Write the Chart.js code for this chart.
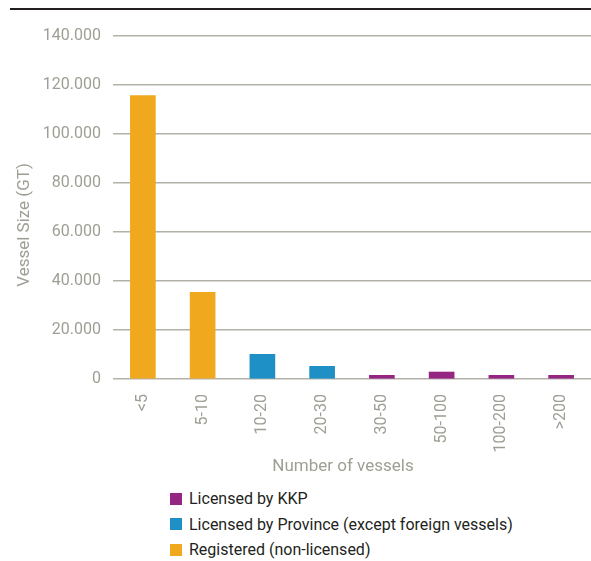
<!DOCTYPE html>
<html lang="en">
<head>
    <meta charset="UTF-8">
    <title>Vessel Size by Number of Vessels</title>
    <script src="https://cdn.jsdelivr.net/npm/chart.js"></script>
    <style>
        body { margin: 0; background: #fff; font-family: 'Liberation Sans Narrow', 'Roboto', sans-serif; }
        #wrap { position: relative; width: 591px; height: 561px; }
        #rule { position: absolute; left: 10px; right: 0; top: 8px; height: 2px; background: #231f20; }
        #chartBox { position: absolute; left: 0; top: 0; width: 591px; height: 480px; }
        #legend { position: absolute; left: 170px; top: 486px; margin: 0; padding: 0; list-style: none; }
        #legend li { height: 25.5px; font-size: 16px; color: #231f20; display: flex; align-items: center; }
        #legend span { display: inline-block; width: 12px; height: 12px; margin-right: 7px; }
    </style>
</head>
<body>
<div id="wrap">
    <div id="rule"></div>
    <div id="chartBox"><canvas id="vesselChart"></canvas></div>
    <ul id="legend"></ul>
</div>

<script>
    const categories = ['<5', '5-10', '10-20', '20-30', '30-50', '50-100', '100-200', '>200'];
    const kkp        = [null, null, null, null, 1500, 2850, 1500, 1500];
    const province   = [null, null, 10070, 5180, null, null, null, null];
    const registered = [115650, 35350, null, null, null, null, null, null];
    const yTicks     = [0, 20000, 40000, 60000, 80000, 100000, 120000, 140000];

    const seriesNames  = ['Licensed by KKP', 'Licensed by Province (except foreign vessels)', 'Registered (non-licensed)'];
    const seriesColors = ['#952583', '#1e90c6', '#f0a91f'];

    const grey = '#9f9e95';
    const font = "'Liberation Sans Narrow', 'Roboto', sans-serif";

    // thousands with a dot, as in the source tables
    const fmt = v => v === 0 ? '0' : (v / 1000) + '.000';

    const datasets = [kkp, province, registered].map((vals, i) => ({
        label: seriesNames[i],
        data: vals,
        backgroundColor: seriesColors[i],
        barThickness: 25
    }));

    // axis titles placed by hand, a bit off the chart-area centre
    const axisTitles = {
        id: 'axisTitles',
        afterDraw(chart) {
            const c = chart.ctx;
            c.save();
            c.fillStyle = grey;
            c.font = '17px ' + font;
            c.textAlign = 'center';
            c.textBaseline = 'middle';
            c.fillText('Number of vessels', 343, 467);
            c.translate(25, 225);
            c.rotate(-Math.PI / 2);
            c.fillText('Vessel Size (GT)', 0, 0);
            c.restore();
        }
    };

    const ctx = document.getElementById('vesselChart').getContext('2d');
    new Chart(ctx, {
        type: 'bar',
        data: { labels: categories, datasets: datasets },
        plugins: [axisTitles],
        options: {
            responsive: true,
            maintainAspectRatio: false,
            animation: false,
            layout: { padding: { top: 36, right: 0, left: 0, bottom: 0 } },
            plugins: {
                legend: { display: false },
                tooltip: { enabled: false }
            },
            scales: {
                x: {
                    stacked: true,
                    grid: { display: false },
                    border: { display: false },
                    ticks: {
                        color: grey,
                        font: { family: font, size: 16 },
                        minRotation: 90,
                        maxRotation: 90,
                        padding: 7
                    },
                    afterFit: s => { s.height = 101; }
                },
                y: {
                    stacked: true,
                    min: 0,
                    max: 140000,
                    afterBuildTicks: s => { s.ticks = yTicks.map(v => ({ value: v })); },
                    grid: { color: '#b3b1a8', lineWidth: 1.5, drawTicks: false },
                    border: { display: false },
                    ticks: {
                        color: grey,
                        font: { family: font, size: 16 },
                        padding: 12,
                        callback: v => fmt(v)
                    },
                    afterFit: s => { s.width = 113; }
                }
            }
        }
    });

    document.getElementById('legend').innerHTML = seriesNames.map((n, i) =>
        `<li><span style="background:${seriesColors[i]}"></span>${n}</li>`).join('');
</script>
</body>
</html>
